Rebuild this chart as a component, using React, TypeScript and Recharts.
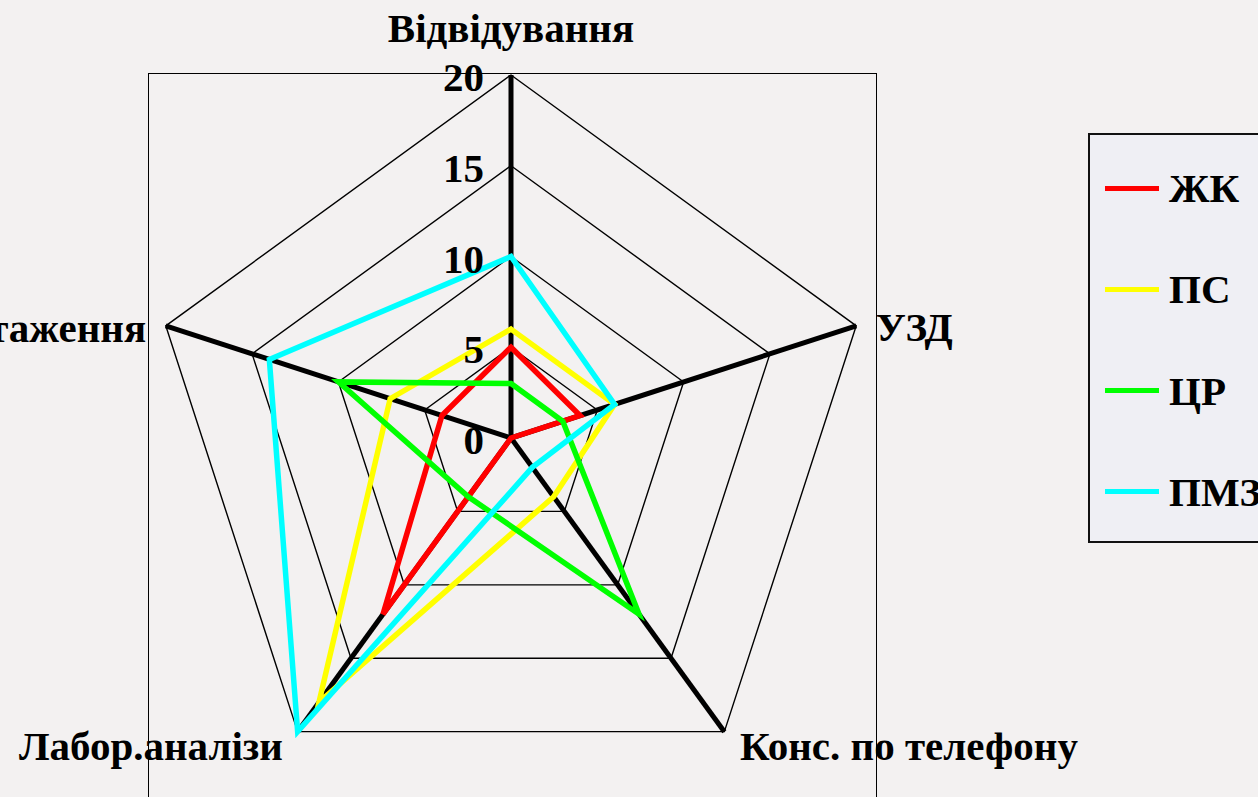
import React from 'react'
import { RadarChart, Radar, PolarGrid, PolarAngleAxis, PolarRadiusAxis, Legend } from 'recharts'

const categories = ['Відвідування', 'УЗД', 'Конс. по телефону', 'Лабор.аналізи', 'Навантаження']
const zhk = [5, 4, 0, 12, 4]
const ps = [6, 6, 4, 18, 7]
const tsr = [3, 3, 12, 4, 10]
const pmz = [10, 6, 2, 20, 14]
const radiusTicks = [0, 5, 10, 15, 20]

const series = [
  { key: 'zhk', name: 'ЖК', color: '#ff0000', values: zhk },
  { key: 'ps', name: 'ПС', color: '#ffff00', values: ps },
  { key: 'tsr', name: 'ЦР', color: '#00ff00', values: tsr },
  { key: 'pmz', name: 'ПМЗ', color: '#00ffff', values: pmz }
]

const data = categories.map((cat, i) => {
  const row: Record<string, string | number> = { cat }
  series.forEach(s => { row[s.key] = s.values[i] })
  return row
})

const FONT = '"Liberation Serif", "Times New Roman", serif'
const FS = 41

// label offsets per axis, relative to the tick point recharts gives us
const labelPos = [
  { dx: 0, dy: -25, anchor: 'middle' },
  { dx: 12, dy: 18, anchor: 'start' },
  { dx: 11, dy: 22, anchor: 'start' },
  { dx: -10, dy: 22, anchor: 'end' },
  { dx: -12, dy: 19, anchor: 'end' }
]

function AngleTick(props: any) {
  const { x, y, payload, index } = props
  const p = labelPos[index] || labelPos[0]
  return (
    <text x={x + p.dx} y={y + p.dy} textAnchor={p.anchor} fontFamily={FONT} fontWeight="bold" fontSize={FS} fill="#000">
      {payload.value}
    </text>
  )
}

function RadiusTick(props: any) {
  const { x, y, payload } = props
  return (
    <text x={x - 27} y={y + 16} textAnchor="end" fontFamily={FONT} fontWeight="bold" fontSize={FS} fill="#000">
      {payload.value}
    </text>
  )
}

// legend drawn in series order (recharts sorts its payload by name)
function LegendBox() {
  return (
    <div style={{ width: 200, height: 410, border: '2px solid #111', boxSizing: 'border-box', position: 'relative', background: '#efeff4' }}>
      {series.map((s, i) => (
        <div key={s.key} style={{ position: 'absolute', left: 15, top: 33 + i * 101.3, height: 40, display: 'flex', alignItems: 'center' }}>
          <div style={{ width: 54, height: 5, background: s.color }} />
          <span style={{ marginLeft: 10, fontFamily: FONT, fontWeight: 'bold', fontSize: FS, color: '#000', lineHeight: '40px' }}>
            {s.name}
          </span>
        </div>
      ))}
    </div>
  )
}

export default function App() {
  return (
    <div style={{ position: 'absolute', left: 0, top: 0, width: 1258, height: 797, overflow: 'hidden', background: '#f3f1f1' }}>
      <div style={{ position: 'absolute', left: 148, top: 73, width: 729, height: 740, border: '1.5px solid #000', boxSizing: 'border-box' }} />
      <div style={{ position: 'absolute', left: 0, top: 0 }}>
        <RadarChart width={1258} height={797} data={data} cx={511} cy={438} outerRadius={363} startAngle={90} endAngle={-270} margin={{ top: 0, right: 0, bottom: 0, left: 0 }}>
          <PolarGrid gridType="polygon" stroke="#000" strokeWidth={1.4} radialLines={false} />
          <PolarGrid gridType="polygon" stroke="#000" strokeWidth={5} polarRadius={[0]} />
          <PolarAngleAxis dataKey="cat" tick={<AngleTick />} axisLine={false} tickLine={false} />
          <PolarRadiusAxis angle={90} domain={[0, 20]} ticks={radiusTicks as any} tickCount={5} axisLine={false} tickLine={false} tick={<RadiusTick />} />
          {series.map(s => (
            <Radar key={s.key} name={s.name} dataKey={s.key} stroke={s.color} strokeWidth={5.5} fill="none" fillOpacity={0} isAnimationActive={false} />
          ))}
          <Legend content={<LegendBox />} wrapperStyle={{ position: 'absolute', left: 1088, top: 133, width: 200, height: 410 }} />
        </RadarChart>
      </div>
    </div>
  )
}
